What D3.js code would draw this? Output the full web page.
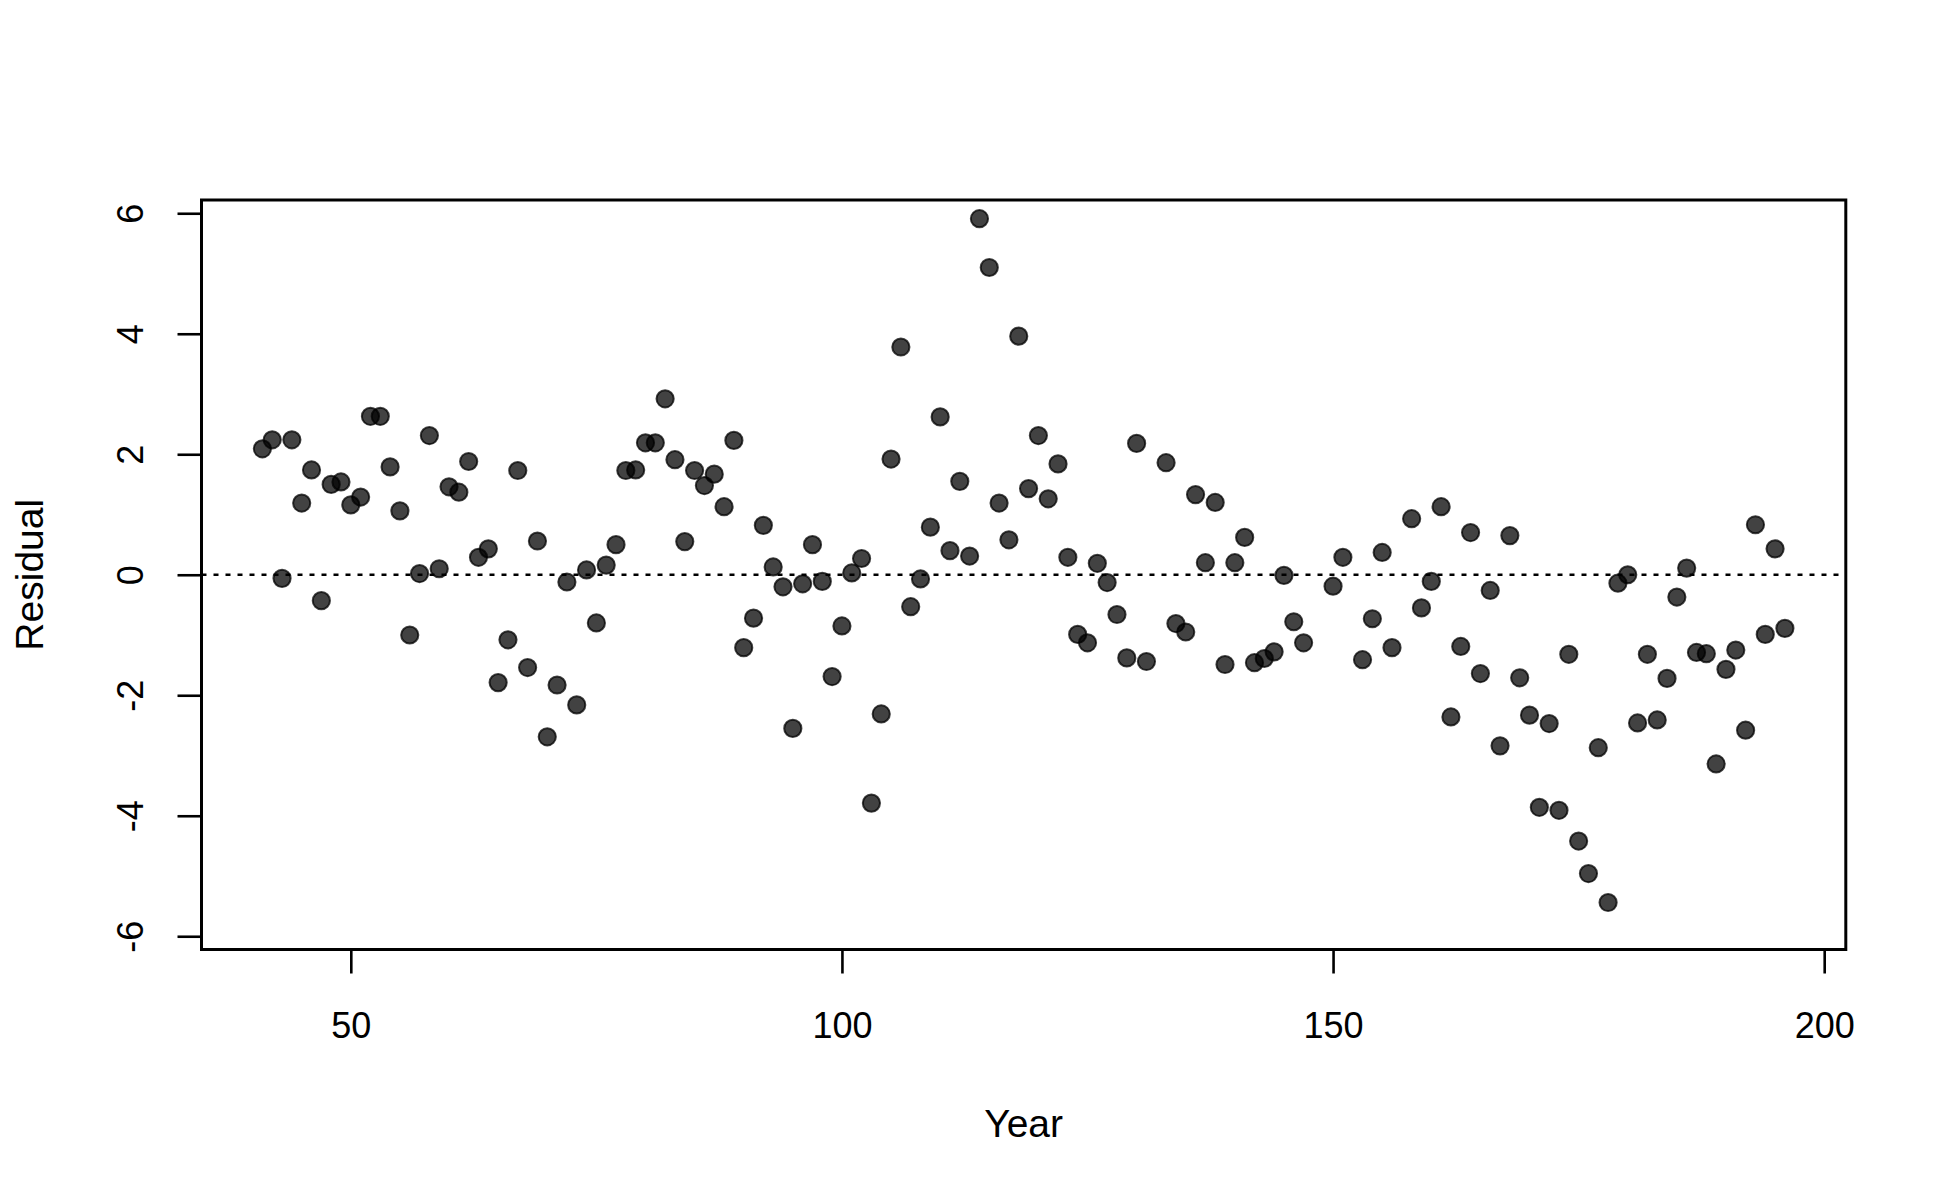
<!DOCTYPE html>
<html>
<head>
<meta charset="utf-8">
<script src="https://cdn.jsdelivr.net/npm/d3@7"></script>
<style>
  html, body { margin: 0; padding: 0; background: #fff; }
  svg { display: block; }
  text { font-family: "Liberation Sans", Arial, sans-serif; fill: #000; }
</style>
</head>
<body>
<script>
const years = [41,42,43,44,45,46,47,48,49,50,51,52,53,54,55,56,57,58,59,60,
  61,62,63,64,65,66,67,68,69,70,71,72,73,74,75,76,77,78,79,80,
  81,82,83,84,85,86,87,88,89,90,91,92,93,94,95,96,97,98,99,100,
  101,102,103,104,105,106,107,108,109,110,111,112,113,114,115,116,117,118,119,120,
  121,122,123,124,125,126,127,128,129,130,131,133,134,135,136,137,138,139,140,
  141,142,143,144,145,146,147,150,151,153,154,155,156,158,159,160,
  161,162,163,164,165,166,167,168,169,170,171,172,173,174,175,176,177,178,179,180,
  181,182,183,184,185,186,187,188,189,190,191,192,193,194,195,196];
const residuals = [2.09,2.24,-0.06,2.24,1.19,1.74,-0.43,1.50,1.54,1.16,1.29,2.63,2.63,1.79,1.06,-1.00,0.02,2.31,0.10,1.46,
  1.37,1.88,0.29,0.43,-1.79,-1.08,1.73,-1.54,0.56,-2.69,-1.83,-0.12,-2.16,0.08,-0.80,0.16,0.50,1.73,1.74,2.19,
  2.19,2.92,1.91,0.55,1.73,1.48,1.67,1.13,2.23,-1.21,-0.72,0.82,0.13,-0.20,-2.55,-0.15,0.50,-0.11,-1.69,-0.85,
  0.03,0.27,-3.79,-2.31,1.92,3.78,-0.53,-0.07,0.79,2.62,0.40,1.55,0.31,5.91,5.10,1.19,0.58,3.96,1.43,2.31,
  1.26,1.84,0.29,-0.99,-1.13,0.19,-0.13,-0.66,-1.38,2.18,-1.44,1.86,-0.81,-0.95,1.33,0.20,1.20,-1.49,0.20,
  0.62,-1.46,-1.39,-1.28,-0.01,-0.78,-1.13,-0.19,0.29,-1.41,-0.73,0.37,-1.21,0.93,-0.55,-0.11,
  1.13,-2.36,-1.19,0.70,-1.64,-0.26,-2.84,0.65,-1.71,-2.33,-3.86,-2.47,-3.91,-1.32,-4.42,-4.96,-2.87,-5.44,-0.14,0.00,
  -2.46,-1.32,-2.41,-1.72,-0.37,0.11,-1.29,-1.31,-3.14,-1.57,-1.25,-2.58,0.83,-0.99,0.43,-0.89];
const xTicks = [50, 100, 150, 200];
const yTicks = [-6, -4, -2, 0, 2, 4, 6];
const xLabel = "Year";
const yLabel = "Residual";

const W = 1950, H = 1200;
const box = {left: 201.5, right: 1845.8, top: 200, bottom: 949.5};

const svg = d3.select("body").append("svg").attr("width", W).attr("height", H);

const x = d3.scaleLinear().domain([34.8, 202.2]).range([box.left, box.right]);
const y = d3.scaleLinear().domain([-6.22, 6.22]).range([box.bottom, box.top]);

// zero reference line
svg.append("line")
  .attr("x1", box.left).attr("x2", box.right)
  .attr("y1", y(0)).attr("y2", y(0))
  .attr("stroke", "#000").attr("stroke-width", 2.5)
  .attr("stroke-dasharray", "5,7");

// points
const data = years.map((yr, i) => ({yr, r: residuals[i]}));
svg.append("g").selectAll("circle").data(data).join("circle")
  .attr("cx", d => x(d.yr)).attr("cy", d => y(d.r))
  .attr("r", 8.6)
  .attr("fill", "rgba(0,0,0,0.74)")
  .attr("stroke", "rgba(0,0,0,0.74)")
  .attr("stroke-width", 2);

// box
svg.append("rect")
  .attr("x", box.left).attr("y", box.top)
  .attr("width", box.right - box.left).attr("height", box.bottom - box.top)
  .attr("fill", "none").attr("stroke", "#000").attr("stroke-width", 3);

const fmt = d => String(d);

// x axis
const xAxis = d3.axisBottom(x).tickValues(xTicks).tickSize(24).tickPadding(40).tickFormat(fmt);
const gx = svg.append("g").attr("transform", `translate(0,${box.bottom})`).call(xAxis);
gx.select(".domain").remove();
gx.selectAll(".tick line").attr("stroke", "#000").attr("stroke-width", 2.6);
gx.selectAll(".tick text").attr("font-size", 36).attr("font-family", "Liberation Sans, Arial, sans-serif")
  .attr("dy", null).attr("y", 88.5).attr("fill", "#000");

// y axis
const yAxis = d3.axisLeft(y).tickValues(yTicks).tickSize(24).tickFormat(fmt);
const gy = svg.append("g").attr("transform", `translate(${box.left},0)`).call(yAxis);
gy.select(".domain").remove();
gy.selectAll(".tick line").attr("stroke", "#000").attr("stroke-width", 2.6);
gy.selectAll(".tick text")
  .attr("font-size", 36).attr("font-family", "Liberation Sans, Arial, sans-serif")
  .attr("x", null).attr("dy", null)
  .attr("text-anchor", "middle")
  .attr("transform", "translate(-58.5,0) rotate(-90)")
  .attr("fill", "#000");

// axis titles
svg.append("text")
  .attr("x", (box.left + box.right) / 2).attr("y", 1136.5)
  .attr("text-anchor", "middle").attr("font-size", 39)
  .text(xLabel);
svg.append("text")
  .attr("transform", `translate(43,${(box.top + box.bottom) / 2}) rotate(-90)`)
  .attr("text-anchor", "middle").attr("font-size", 39)
  .text(yLabel);
</script>
</body>
</html>
